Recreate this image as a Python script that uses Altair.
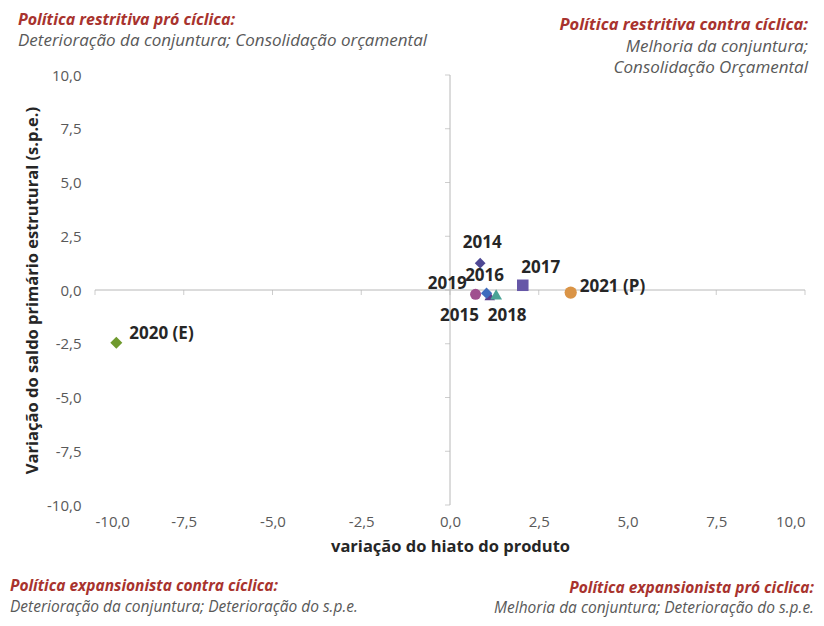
import altair as alt
import pandas as pd

# ---- data ----
anos = ["2019", "2014", "2015", "2016", "2017", "2018", "2020 (E)", "2021 (P)"]
hiato = [1.12, 0.85, 0.72, 1.03, 2.05, 1.30, -9.40, 3.40]
spe = [-0.26, 1.25, -0.20, -0.15, 0.22, -0.20, -2.45, -0.12]
cores = ["#5B3D8C", "#4E4894", "#A0508F", "#3F6CBE", "#6657A7", "#4AA396", "#6F9A2E", "#DA9446"]
formas = ["triangle-up", "diamond", "circle", "diamond", "square", "triangle-up", "diamond", "circle"]
tamanhos = [110, 150, 210, 150, 180, 190, 140, 225]
ticks = [-10, -7.5, -5, -2.5, 0, 2.5, 5, 7.5, 10]

# label offsets (style only)
rot_off = {
    "2019": (-23, -12, "right"),
    "2014": (2, -20, "center"),
    "2015": (-16, 22, "center"),
    "2016": (-2, -17, "center"),
    "2017": (18, -17, "center"),
    "2018": (11, 22, "center"),
    "2020 (E)": (13, -9, "left"),
    "2021 (P)": (9, -6, "left"),
}

df = pd.DataFrame({"ano": anos, "x": hiato, "y": spe})

W, H = 710, 430
fmt = "replace(replace(format(datum.value, '.1f'), '.', ','), '\u2212', '-')"

xax = alt.Axis(values=ticks, domain=False, ticks=False, grid=False, labelExpr=fmt,
               title="variação do hiato do produto", labelFont="Open Sans", labelFontSize=15,
               labelColor="#595959", labelPadding=9, titleFont="Open Sans", titleFontSize=16.5,
               titleFontWeight="bold", titleColor="#262626", titlePadding=9)
yax = alt.Axis(values=ticks, domain=False, ticks=False, grid=False, labelExpr=fmt,
               title="Variação do saldo primário estrutural (s.p.e.)", labelFont="Open Sans",
               labelFontSize=15, labelColor="#595959", labelPadding=14, titleFont="Open Sans",
               titleFontSize=16.5, titleFontWeight="bold", titleColor="#262626", titlePadding=6)

def X():
    return alt.X("x:Q", scale=alt.Scale(domain=[-10, 10], nice=False, zero=False), axis=xax)

def Y():
    return alt.Y("y:Q", scale=alt.Scale(domain=[-10, 10], nice=False, zero=False), axis=yax)

one = pd.DataFrame({"x": [0], "y": [0]})
linecol = "#B8B8B8"

hline = alt.Chart(one).mark_rule(color=linecol, strokeWidth=1).encode(y=Y())
vline = alt.Chart(one).mark_rule(color=linecol, strokeWidth=1).encode(x=X())
xt = alt.Chart(pd.DataFrame({"x": ticks})).mark_tick(
    orient="vertical", size=5, thickness=1, color=linecol, yOffset=2.5).encode(x=X(), y=alt.datum(0))
yt = alt.Chart(pd.DataFrame({"y": ticks})).mark_tick(
    orient="horizontal", size=5, thickness=1, color=linecol, xOffset=-2.5).encode(y=Y(), x=alt.datum(0))

pts = alt.Chart(df).mark_point(filled=True, opacity=1).encode(
    x=X(), y=Y(),
    color=alt.Color("ano:N", scale=alt.Scale(domain=anos, range=cores), legend=None),
    shape=alt.Shape("ano:N", scale=alt.Scale(domain=anos, range=formas), legend=None),
    size=alt.Size("ano:N", scale=alt.Scale(domain=anos, range=tamanhos), legend=None),
    order=alt.Order("idx:Q"),
).transform_window(idx="row_number()")

labels = []
for a in anos:
    dx, dy, al = rot_off[a]
    labels.append(
        alt.Chart(df).transform_filter(alt.datum.ano == a).mark_text(
            dx=dx, dy=dy, align=al, baseline="middle", font="Open Sans", fontSize=17,
            fontWeight="bold", color="#262626").encode(x=X(), y=Y(), text="ano:N")
    )

RED = "#A8332E"
GRAY = "#595959"

def note(txt, px, py, color, align, bold=False, size=16.5):
    return alt.Chart(pd.DataFrame({"t": [txt]})).mark_text(
        align=align, baseline="middle", font="Open Sans", fontStyle="italic",
        fontWeight="bold" if bold else "normal", fontSize=size, color=color
    ).encode(x=alt.value(px), y=alt.value(py), text="t:N")

notes = [
    note("Política restritiva pró cíclica:", -77, -55, RED, "left", True, 16),
    note("Deterioração da conjuntura; Consolidação orçamental", -77, -34, GRAY, "left", False, 17),
    note("Política restritiva contra cíclica:", 713, -50, RED, "right", True, 16.5),
    note("Melhoria da conjuntura;", 713, -28, GRAY, "right", False, 17),
    note("Consolidação Orçamental", 713, -7, GRAY, "right", False, 17),
    note("Política expansionista contra cíclica:", -85, 511, RED, "left", True, 15.5),
    note("Deterioração da conjuntura; Deterioração do s.p.e.", -85, 532, GRAY, "left", False, 15.5),
    note("Política expansionista pró ciclica:", 719, 513, RED, "right", True, 15.5),
    note("Melhoria da conjuntura; Deterioração do s.p.e.", 719, 533, GRAY, "right", False, 15.5),
]

chart = alt.layer(hline, vline, xt, yt, pts, *labels, *notes).properties(
    width=W, height=H,
    autosize=alt.AutoSizeParams(type="none"),
    padding={"left": 87, "top": 67, "right": 11, "bottom": 113},
    background="white",
).configure_view(stroke=None)

chart.save("out.html", embed_options={"renderer": "svg", "actions": False})
